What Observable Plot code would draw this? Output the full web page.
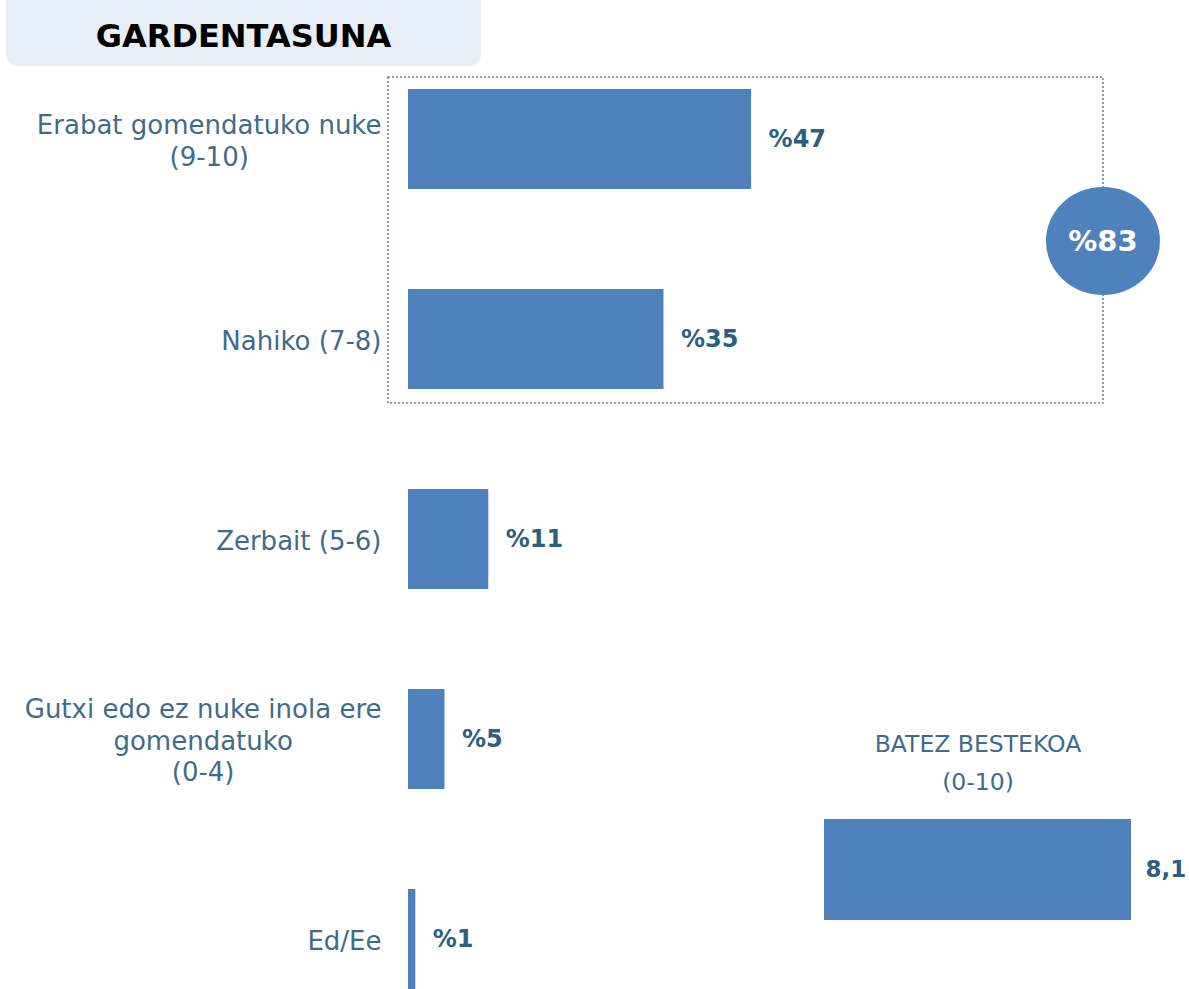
<!DOCTYPE html>
<html><head><meta charset="utf-8">
<script src="https://cdn.jsdelivr.net/npm/d3@7"></script>
<script src="https://cdn.jsdelivr.net/npm/@observablehq/plot@0.6"></script>
<style>
body{margin:0;background:#fff;font-family:"DejaVu Sans",sans-serif;}
#wrap{position:relative;width:1189px;height:989px;overflow:hidden;background:#fff;}
#title{position:absolute;left:6px;top:-12px;width:475px;height:78px;background:#e8eef7;border-radius:12px;box-sizing:border-box;padding-top:30px;text-align:center;font-size:32px;line-height:37px;font-weight:bold;color:#000;}
#main{position:absolute;left:0;top:0;}
#avg{position:absolute;left:800px;top:700px;}
</style></head>
<body>
<div id="wrap">
  <div id="main"></div>
  <div id="title">GARDENTASUNA</div>
  <div id="avg"></div>
</div>
<script>
// ---- data ----
const categories = [
  "Erabat gomendatuko nuke\n(9-10)",
  "Nahiko (7-8)",
  "Zerbait (5-6)",
  "Gutxi edo ez nuke inola ere\ngomendatuko\n(0-4)",
  "Ed/Ee"
];
const values = [47, 35, 11, 5, 1];
const topTwoTotal = 83;          // grouped share of first two categories
const avgLabel = "BATEZ BESTEKOA\n(0-10)";
const avgValue = 8.1;
const avgValueText = "8,1";

const barColor = "#4f81bd";
const labelColor = "#3e6c89";
const valueColor = "#2d5f7e";

const rows = categories.map((c, i) => ({category: c, value: values[i]}));

const plot = Plot.plot({
  width: 1189, height: 989,
  marginLeft: 408, marginRight: 51, marginTop: 0, marginBottom: 0,
  x: {domain: [0, 100], axis: null},
  y: {domain: categories, range: [87, 991], paddingInner: 0.5, paddingOuter: 0, axis: null},
  style: {fontFamily: "DejaVu Sans", background: "transparent"},
  marks: [
    Plot.barX(rows, {x: "value", y: "category", fill: barColor}),
    Plot.text(rows, {x: 0, y: "category", text: "category", dx: -27, textAnchor: "end",
      fontSize: 26, lineHeight: 1.22, fill: labelColor}),
    Plot.text(rows, {x: "value", y: "category", text: d => "%" + d.value, dx: 17, textAnchor: "start",
      fontSize: 24, fontWeight: "bold", fill: valueColor})
  ]
});
document.getElementById("main").appendChild(plot);

// center multi-line category labels on their widest line (right edge fixed)
d3.select(plot).selectAll("text").each(function() {
  const spans = this.querySelectorAll("tspan");
  if (spans.length < 2) return;
  const widths = Array.from(spans, s => s.getComputedTextLength());
  const maxW = d3.max(widths);
  spans.forEach((s, i) => s.setAttribute("x", -(maxW - widths[i]) / 2));
});

// dotted group box + circle using the plot's scales
{
  const X = plot.scale("x"), Y = plot.scale("y");
  const bw = Y.bandwidth;
  const top = Y.apply(categories[0]) - 12;
  const bottom = Y.apply(categories[1]) + bw + 14;
  const left = X.apply(0) - 20;
  const right = X.apply(95.2);
  const cy = (Y.apply(categories[0]) + Y.apply(categories[1]) + bw) / 2 + 2;
  const svg = d3.select(plot);
  const g = svg.append("g");
  g.append("rect").attr("x", left).attr("y", top).attr("width", right - left).attr("height", bottom - top)
    .attr("fill", "none").attr("stroke", "#6f7f99").attr("stroke-width", 1.5).attr("stroke-dasharray", "2,2");
  g.append("ellipse").attr("cx", right).attr("cy", cy).attr("rx", 57).attr("ry", 54).attr("fill", barColor);
  g.append("text").attr("x", right).attr("y", cy).attr("dy", "0.36em").attr("text-anchor", "middle")
    .attr("fill", "#fff").attr("font-weight", "bold").attr("font-size", 29).attr("font-family", "DejaVu Sans")
    .text("%" + topTwoTotal);
}

// average chart
const avgRows = [{label: avgLabel, value: avgValue}];
const avg = Plot.plot({
  width: 389, height: 289,
  marginLeft: 0, marginRight: 0, marginTop: 0, marginBottom: 0,
  x: {domain: [0, 10], range: [24, 403], axis: null},
  y: {domain: [avgLabel], range: [119, 220], padding: 0, axis: null},
  style: {fontFamily: "DejaVu Sans", background: "transparent", overflow: "visible"},
  marks: [
    Plot.barX(avgRows, {x: "value", y: "label", fill: barColor}),
    Plot.text(avgRows, {x: d => d.value / 2, y: "label", text: "label", dy: -80, lineAnchor: "bottom",
      fontSize: 23.5, lineHeight: 1.62, fill: labelColor}),
    Plot.text(avgRows, {x: "value", y: "label", text: () => avgValueText, dx: 14, textAnchor: "start",
      fontSize: 23, fontWeight: "bold", fill: valueColor})
  ]
});
document.getElementById("avg").appendChild(avg);
</script>
</body></html>
